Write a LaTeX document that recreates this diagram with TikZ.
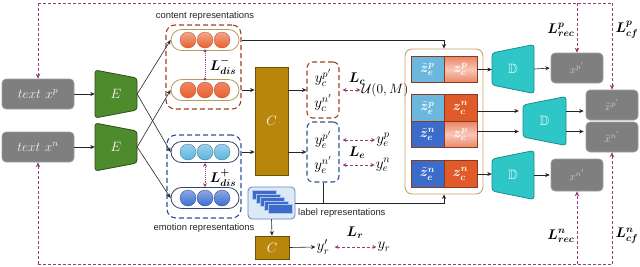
\RequirePackage{fix-cm}
\documentclass[tikz,border=0pt]{standalone}
\usepackage{fontspec}
\usepackage{amsmath,amssymb,bm}
\newfontfamily\labfont{Liberation Sans}
\usetikzlibrary{arrows.meta,calc}
\newcommand\mymsz{\fontsize{13.5}{15}\selectfont}
\newcommand\myysz{\fontsize{15}{17}\selectfont}
\newcommand\mybsz{\fontsize{14}{16}\selectfont}
\definecolor{lossc}{HTML}{993D7F}
\definecolor{gboxc}{HTML}{7F7F7F}
\definecolor{gboxd}{HTML}{A0A0A0}
\definecolor{egreen}{HTML}{4E8B2C}
\definecolor{egreend}{HTML}{2B4F16}
\definecolor{cgold}{HTML}{B8860B}
\definecolor{cgoldd}{HTML}{6B5208}
\definecolor{dteal}{HTML}{2EC6C6}
\definecolor{dteald}{HTML}{1D8C90}
\definecolor{lblue}{HTML}{6BB7DD}
\definecolor{dblue}{HTML}{3C6CCB}
\definecolor{dorange}{HTML}{E05A2A}
\definecolor{lorange}{HTML}{EC8462}
\definecolor{celld}{HTML}{8A3A1E}
\definecolor{ctdash}{HTML}{A3431F}
\definecolor{emdash}{HTML}{2F5291}
\definecolor{ctpill}{HTML}{B99A5C}
\definecolor{empill}{HTML}{34466B}
\definecolor{zbord}{HTML}{C9A464}
\definecolor{iconf}{HTML}{DDE9F7}
\definecolor{icond}{HTML}{5D86C4}
\definecolor{ctbub}{HTML}{E8602F}
\definecolor{embub}{HTML}{5AB4E0}
\definecolor{embubd}{HTML}{3D6FD2}
\begin{document}
\begin{tikzpicture}[x=1pt,y=-1pt,
 arr/.style={-{Stealth[length=4.5pt,width=4pt]}, line width=0.6pt, draw=black!85},
 lossl/.style={draw=lossc, dash pattern=on 3pt off 2pt, line width=0.8pt},
 lossarr/.style={lossl, -{Stealth[length=5pt,width=4.5pt]}},
 dblloss/.style={lossl, {Stealth[length=4pt,width=4pt]}-{Stealth[length=4pt,width=4pt]}},
 gbox/.style={fill=gboxc, draw=gboxd, line width=0.6pt, rounded corners=4pt, text=white!94!black, inner sep=0, minimum width=52, minimum height=30},
 trapnode/.style={inner sep=0, text=white, font=\mymsz},
 efill/.style={fill=egreen, draw=egreend, line width=0.8pt, rounded corners=3pt},
 dfill/.style={fill=dteal, draw=dteald, line width=0.8pt, rounded corners=3pt},
 cbox/.style={fill=cgold, draw=cgoldd, line width=0.8pt, text=white, inner sep=0, font=\mymsz},
 grp/.style={dash pattern=on 5pt off 3pt, line width=1.1pt, rounded corners=9pt, inner sep=0},
 pill/.style={fill=white, line width=0.8pt, rounded corners=10.5pt, minimum width=68, minimum height=21, inner sep=0},
 mt/.style={inner sep=1pt, font=\myysz},
 bl/.style={inner sep=1pt, font=\mybsz},
 lab/.style={inner sep=0, font=\labfont\fontsize{9.4}{11}\selectfont, text=black!85},
 cell/.style={draw=celld, line width=0.9pt, minimum width=33, minimum height=26.5, inner sep=0, text=white, font=\mymsz},
 smallg/.style={gbox, font=\fontsize{11}{12}\selectfont, text=white!80!black},
]
\useasboundingbox (0,0) rectangle (640,266);
\fill[white] (0,0) rectangle (640,266);

% input text boxes
\node[gbox, minimum width=72, font=\mymsz] (tp) at (38,94) {$text\ x^p$};
\node[gbox, minimum width=72, font=\mymsz] (tn) at (38,147) {$text\ x^n$};

% encoders
\filldraw[efill] (95,70) -- (137,78) -- (137,110) -- (95,118) -- cycle;
\node[trapnode, minimum width=42, minimum height=48] (E1) at (116,94) {$E$};
\filldraw[efill] (95,123) -- (137,131) -- (137,163) -- (95,171) -- cycle;
\node[trapnode, minimum width=42, minimum height=48] (E2) at (116,147) {$E$};
\draw[arr] (tp.east) -- (E1.west);
\draw[arr] (tn.east) -- (E2.west);

% representation groups
\node[grp, draw=ctdash, minimum width=75, minimum height=84] (ctg) at (203.5,67) {};
\node[grp, draw=emdash, minimum width=74, minimum height=83] (emg) at (204,176.5) {};
\node[lab] (ctlab) at (205,16) {content representations};
\node[lab] (emlab) at (204,228) {emotion representations};

\node[pill, draw=ctpill] (ct1) at (205,40) {};
\node[pill, draw=ctpill] (ct2) at (205,90) {};
\node[pill, draw=empill] (em1) at (205,152) {};
\node[pill, draw=empill] (em2) at (205,198) {};
\foreach \xx in {188,205,222}{
  \shadedraw[top color=ctbub!55!white, bottom color=ctbub, draw=ctbub!80!black, line width=0.3pt] (\xx,40) circle (8pt);
  \shadedraw[top color=ctbub!75!white, bottom color=ctbub, draw=ctbub!80!black, line width=0.3pt] (\xx,90) circle (8pt);
  \shadedraw[top color=embub!60!white, bottom color=embub, draw=embub!60!black, line width=0.3pt] (\xx,152) circle (8pt);
  \shadedraw[top color=embubd!60!white, bottom color=embubd, draw=embubd!60!black, line width=0.3pt] (\xx,198) circle (8pt);
}
\draw[arr] (E1.east) -- (ct1.west);
\draw[arr] (E1.east) -- (em1.west);
\draw[arr] (E2.east) -- (ct2.west);
\draw[arr] (E2.east) -- (em2.west);

\draw[lossc, densely dotted, line width=0.9pt] (ct1.south) -- (ct2.north);
\fill[lossc] (ct1.south) circle (1.6pt) (ct2.north) circle (1.6pt);
\node[bl] (Ldm) at (223,66) {$\bm{L^{-}_{dis}}$};
\draw[lossc, densely dotted, line width=0.9pt, {Stealth[length=4pt,width=4pt]}-{Stealth[length=4pt,width=4pt]}] (em1.south) -- (em2.north);
\node[bl] (Ldp) at (223,178) {$\bm{L^{+}_{dis}}$};

% classifier
\node[cbox, minimum width=33, minimum height=108] (C1) at (271.5,121) {$C$};
\draw[arr] (ctg.east |- ct2) -- (C1.west |- ct2);
\draw[arr] (emg.east |- em1) -- (C1.west |- em1);

% prediction boxes
\node[grp, draw=ctdash, rounded corners=6pt, minimum width=32, minimum height=56] (yc) at (323,90) {};
\node[grp, draw=emdash, rounded corners=6pt, minimum width=32, minimum height=60] (ye) at (323,152) {};
\node[mt] (ycp) at (323,78) {$y_c^{p'}$};
\node[mt] (ycn) at (323,103) {$y_c^{n'}$};
\node[mt] (yep) at (323,140) {$y_e^{p'}$};
\node[mt] (yen) at (323,165) {$y_e^{n'}$};
\draw[arr] (C1.east |- yc) -- (yc.west);
\draw[arr] (C1.east |- ye) -- (ye.west);

\node[inner sep=1pt, font=\mymsz] (U) at (385,90) {$\mathcal{U}(0,M)$};
\draw[dblloss] ($(yc.east)+(3,0)$) -- (U.west);
\node[bl] (Lc) at (357,79) {$\bm{L_c}$};
\node[mt] (yept) at (383,140) {$y_e^{p}$};
\node[mt] (yent) at (383,165) {$y_e^{n}$};
\draw[dblloss] ($(ye.east |- yept)+(3,0)$) -- (yept.west);
\draw[dblloss] ($(ye.east |- yent)+(3,0)$) -- (yent.west);
\node[bl] (Le) at (357,153) {$\bm{L_e}$};

% label representations
\node[draw=icond, fill=iconf, rounded corners=4pt, line width=0.8pt, minimum width=47, minimum height=32, inner sep=0] (li) at (271.5,203) {};
\foreach \i in {0,...,4}{
  \filldraw[fill=dblue, draw=white!60!dblue, line width=0.4pt] ($(li.north west)+(5+4*\i,4+3.5*\i)$) rectangle ++(24,9);
}
\node[lab, anchor=west] (lilab) at (298,213) {label representations};
\node[cbox, minimum width=34, minimum height=23] (C2) at (272,247.5) {$C$};
\draw[arr] (li.south) -- (C2.north);
\node[mt] (yrp) at (323,247) {$y'_r$};
\node[mt] (yr) at (384,247) {$y_r$};
\draw[arr] (C2.east) -- (yrp.west);
\draw[dblloss] ($(yrp.east)+(4,0)$) -- (yr.west);
\node[bl] (Lr) at (355,233) {$\bm{L_r}$};

% latent box
\node[draw=zbord, line width=0.9pt, rounded corners=7pt, minimum width=78, minimum height=145, inner sep=0] (zb) at (444,121.5) {};
\node[cell, fill=lblue] (a1) at (427.5,69.5) {$\tilde{\bm z}_{\bm e}^{\bm p}$};
\node[cell, top color=lorange, bottom color=lorange, middle color=lorange!45!white] (a2) at (460.5,69.5) {$\bm{z_c^p}$};
\node[cell, fill=lblue] (b1) at (427.5,108) {$\tilde{\bm z}_{\bm e}^{\bm p}$};
\node[cell, fill=dorange] (b2) at (460.5,108) {$\bm{z_c^n}$};
\node[cell, fill=dblue] (c1) at (427.5,134.5) {$\tilde{\bm z}_{\bm e}^{\bm n}$};
\node[cell, top color=lorange, bottom color=lorange, middle color=lorange!45!white] (c2) at (460.5,134.5) {$\bm{z_c^p}$};
\node[cell, fill=dblue] (d1) at (427.5,174) {$\tilde{\bm z}_{\bm e}^{\bm n}$};
\node[cell, fill=dorange] (d2) at (460.5,174) {$\bm{z_c^n}$};

\draw[arr] (ctg.east |- ct1) -| (zb.north);
\draw[arr] (li.east) -| (zb.south);
\draw[line width=0.6pt, draw=black!85] (ye.south) -- (ye.south |- li.east);

% decoders
\filldraw[dfill] (492,53) -- (534,44.5) -- (534,93.5) -- (492,85) -- cycle;
\node[trapnode, minimum width=42, minimum height=49] (D1) at (513,69) {$\mathbb{D}$};
\filldraw[dfill] (523,105) -- (566,96.5) -- (566,145.5) -- (523,137) -- cycle;
\node[trapnode, minimum width=43, minimum height=49] (D2) at (544.5,121) {$\mathbb{D}$};
\filldraw[dfill] (492,159) -- (534,150.5) -- (534,199.5) -- (492,191) -- cycle;
\node[trapnode, minimum width=42, minimum height=49] (D3) at (513,175) {$\mathbb{D}$};

\node[smallg] (xpp) at (577,68) {$x^{p'}$};
\node[smallg, minimum height=32] (xnp) at (577,175) {$x^{n'}$};
\node[smallg] (xtp) at (612,105) {$\tilde x^{p'}$};
\node[smallg] (xtn) at (612,137) {$\tilde x^{n'}$};

\draw[arr] (a2.east) -- (D1.west |- a2.east);
\draw[arr] (d2.east) -- (D3.west |- d2.east);
\coordinate (rb) at ($(b2.east)+(0,3)$);
\coordinate (rc) at ($(c2.east)+(0,-3)$);
\draw[arr, shorten >=4pt] (rb) -- (rb -| D2.west);
\draw[arr, shorten >=4pt] (rc) -- (rc -| D2.west);
\draw[arr, shorten >=2pt] (rb -| D2.east) -- (rb -| xtp.west);
\draw[arr, shorten >=2pt] (rc -| D2.east) -- (rc -| xtn.west);
\draw[arr, shorten >=1pt] (D1.east) -- (xpp.west);
\draw[arr, shorten >=1pt] (D3.east |- xnp) -- (xnp.west);

% loss loops
\coordinate (tl) at (38,3);
\coordinate (tr) at (612,3);
\coordinate (bl) at (38,264);
\coordinate (br) at (612,264);
\draw[lossl] (tl) -- (tr);
\draw[lossarr] (tl) -- (tp.north);
\draw[lossarr] (xpp.north |- tl) -- (xpp.north);
\draw[lossarr] (tr) -- (xtp.north);
\draw[lossl] (bl) -- (br);
\draw[lossarr] (bl) -- (tn.south);
\draw[lossarr] (xnp.south |- bl) -- (xnp.south);
\draw[lossarr] (br) -- (xtn.south);
\node[bl] (Lrp) at (561,30) {$\bm{L^p_{rec}}$};
\node[bl] (Lcp) at (627,30) {$\bm{L^p_{cf}}$};
\node[bl] (Lrn) at (561,236) {$\bm{L^n_{rec}}$};
\node[bl] (Lcn) at (627,236) {$\bm{L^n_{cf}}$};
\end{tikzpicture}
\end{document}
